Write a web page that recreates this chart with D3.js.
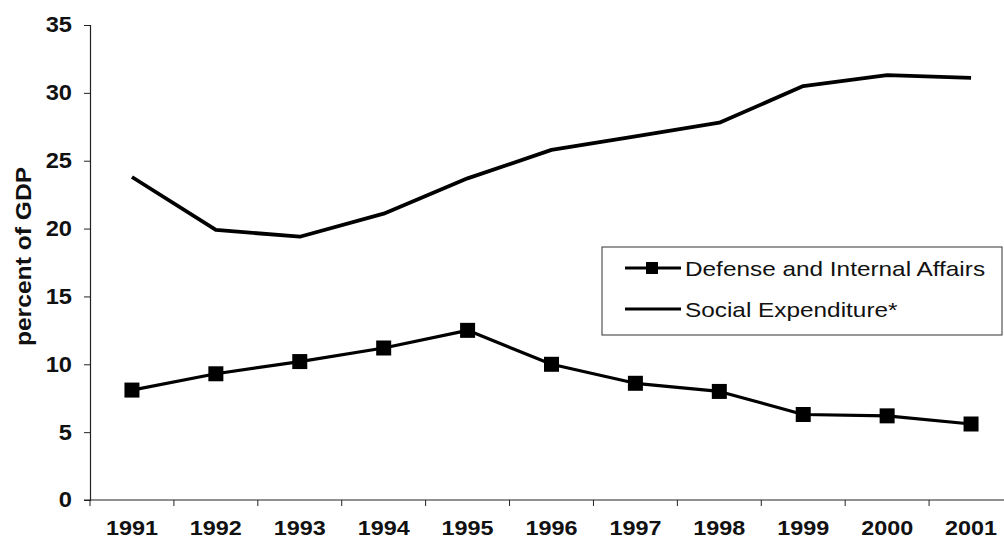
<!DOCTYPE html>
<html>
<head>
<meta charset="utf-8">
<script src="https://cdn.jsdelivr.net/npm/d3@7/dist/d3.min.js"></script>
<style>
  html, body { margin: 0; padding: 0; background: #fff; }
  svg { display: block; }
  text { font-family: "Liberation Sans", Arial, sans-serif; fill: #111; }
</style>
</head>
<body>
<svg id="chart" width="1004" height="541"></svg>
<script>
// Government spending, percent of GDP
const years = ["1991","1992","1993","1994","1995","1996","1997","1998","1999","2000","2001"];
const defense = [8.1, 9.3, 10.2, 11.2, 12.5, 10.0, 8.6, 8.0, 6.3, 6.2, 5.6];
const social  = [23.8, 19.9, 19.4, 21.1, 23.7, 25.8, 26.8, 27.8, 30.5, 31.3, 31.1];
const yTicks = [0, 5, 10, 15, 20, 25, 30, 35];
const seriesNames = ["Defense and Internal Affairs", "Social Expenditure*"];

const svg = d3.select("#chart");
const plotLeft = 90, plotRight = 1013, plotTop = 25, plotBottom = 500;

const x = d3.scaleBand().domain(years).range([plotLeft, plotRight]).padding(0);
const y = d3.scaleLinear().domain([0, 35]).range([plotBottom, plotTop]);
const cx = d => x(d) + x.bandwidth() / 2;

// widen a text element horizontally about its own anchor point
function widen(sel, k) {
  sel.attr("transform", function () {
    const ax = +this.getAttribute("x") || 0;
    const ay = +this.getAttribute("y") || 0;
    return `translate(${ax},${ay}) scale(${k},1) translate(${-ax},${-ay})`;
  });
}

// y axis
const yAxis = svg.append("g")
  .attr("transform", `translate(${plotLeft},0)`)
  .call(d3.axisLeft(y).tickValues(yTicks).tickSize(6).tickPadding(12));
yAxis.select(".domain").attr("stroke", "#222").attr("stroke-width", 1.2);
yAxis.selectAll(".tick line").attr("stroke", "#222");
yAxis.selectAll("text")
  .style("font-family", '"Liberation Sans", Arial, sans-serif')
  .style("font-size", "21.5px").style("font-weight", "bold").attr("fill", "#111")
  .call(widen, 1.1);

// x axis: labels centred on categories, ticks on category boundaries
const xAxis = svg.append("g")
  .attr("transform", `translate(0,${plotBottom})`)
  .call(d3.axisBottom(x).tickSize(0).tickPadding(21));
xAxis.select(".domain").remove();
xAxis.selectAll("text")
  .style("font-family", '"Liberation Sans", Arial, sans-serif')
  .style("font-size", "20px").style("font-weight", "bold").attr("fill", "#111")
  .call(widen, 1.17);

svg.append("line")
  .attr("x1", plotLeft - 6).attr("x2", 1004)
  .attr("y1", plotBottom).attr("y2", plotBottom)
  .attr("stroke", "#222").attr("stroke-width", 1.2);

const bounds = years.map(d => x(d));
svg.append("g").selectAll("line").data(bounds).join("line")
  .attr("x1", d => d).attr("x2", d => d)
  .attr("y1", plotBottom).attr("y2", plotBottom + 6)
  .attr("stroke", "#222").attr("stroke-width", 1);

// y axis title
svg.append("text")
  .attr("transform", `translate(31,${(plotTop + plotBottom) / 2 - 6}) rotate(-90) scale(1.12,1)`)
  .attr("text-anchor", "middle")
  .style("font-size", "22px").style("font-weight", "bold")
  .text("percent of GDP");

const line = d3.line().x((d, i) => cx(years[i])).y(d => y(d));

// social expenditure line
svg.append("path")
  .datum(social)
  .attr("d", line)
  .attr("fill", "none").attr("stroke", "#000")
  .attr("stroke-width", 3.8).attr("stroke-linejoin", "round");

// defense line with square markers
svg.append("path")
  .datum(defense)
  .attr("d", line)
  .attr("fill", "none").attr("stroke", "#000")
  .attr("stroke-width", 3.2).attr("stroke-linejoin", "round");

const m = 15;
svg.append("g").selectAll("rect").data(defense).join("rect")
  .attr("x", (d, i) => cx(years[i]) - m / 2)
  .attr("y", d => y(d) - m / 2)
  .attr("width", m).attr("height", m)
  .attr("fill", "#000");

// legend
const lg = svg.append("g");
lg.append("rect")
  .attr("x", 602).attr("y", 247).attr("width", 400).attr("height", 88)
  .attr("fill", "#fff").attr("stroke", "#333").attr("stroke-width", 1);

const rows = [268, 309];
lg.selectAll("line.key").data(rows).join("line")
  .attr("class", "key")
  .attr("x1", 625).attr("x2", 681)
  .attr("y1", d => d).attr("y2", d => d)
  .attr("stroke", "#000").attr("stroke-width", 3);
lg.append("rect")
  .attr("x", 652 - 6).attr("y", rows[0] - 6)
  .attr("width", 12).attr("height", 12).attr("fill", "#000");
lg.selectAll("text").data(seriesNames).join("text")
  .attr("x", 685).attr("y", (d, i) => rows[i] + 8)
  .style("font-size", "21px")
  .text(d => d)
  .call(widen, 1.16);
</script>
</body>
</html>
